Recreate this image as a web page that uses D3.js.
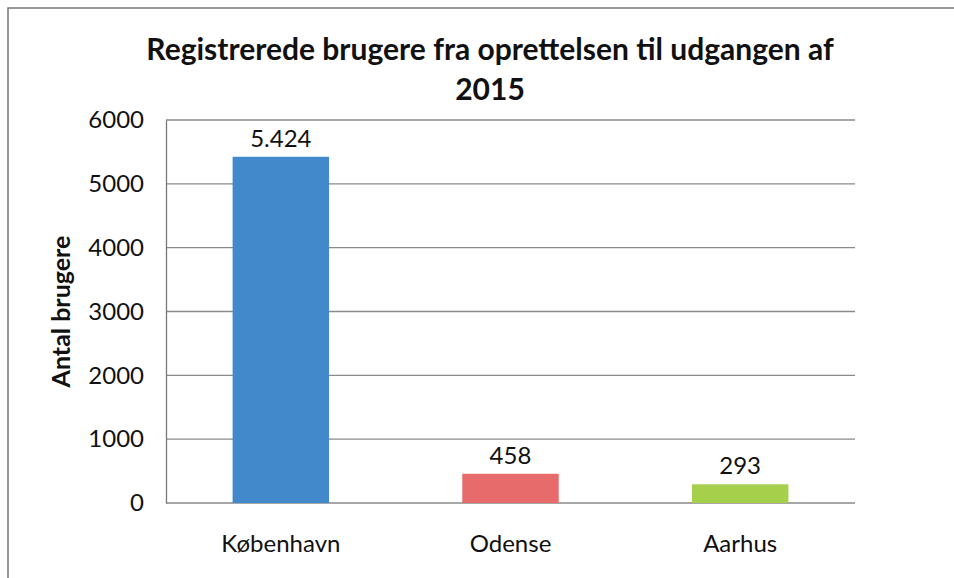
<!DOCTYPE html>
<html>
<head>
<meta charset="utf-8">
<script src="https://cdn.jsdelivr.net/npm/d3@7"></script>
<style>
  body { margin: 0; background: #fff; }
  svg { display: block; }
</style>
</head>
<body>
<svg id="chart"></svg>
<script>
// registrerede brugere per kommune, frem til udgangen af 2015
const cities = ["København", "Odense", "Aarhus"];
const users = [5424, 458, 293];
const userLabels = ["5.424", "458", "293"];
const barColors = ["#4189cb", "#e86b6b", "#a6cf4c"];
const yTicks = [0, 1000, 2000, 3000, 4000, 5000, 6000];

(function draw() {
  const width = 954,
    height = 578,
    margin = { top: 120, right: 99, bottom: 75, left: 166 };

  const font = "Lato, 'Noto Sans', sans-serif";

  const svg = d3.select("svg#chart")
    .attr("width", width)
    .attr("height", height)
    .style("font-family", font);

  // outer frame of the scanned figure
  svg.append("path")
    .attr("d", `M8,${height} V8 H${width}`)
    .attr("fill", "none")
    .attr("stroke", "#777")
    .attr("stroke-width", 1.5);

  const x = d3.scaleBand(cities, [margin.left, width - margin.right])
    .paddingInner(0.58)
    .paddingOuter(0.29);

  const y = d3.scaleLinear([0, 6000], [height - margin.bottom, margin.top]);

  // grid lines
  svg.append("g")
    .selectAll("line")
    .data(yTicks)
    .join("line")
    .attr("x1", margin.left)
    .attr("x2", width - margin.right)
    .attr("y1", d => y(d))
    .attr("y2", d => y(d))
    .attr("stroke", "#8a8a8a")
    .attr("stroke-width", 1.3);

  // y axis
  svg.append("g")
    .attr("transform", `translate(${margin.left}, 0)`)
    .call(d3.axisLeft(y).tickValues(yTicks).tickSize(0).tickPadding(22).tickFormat(d3.format("d")))
    .call(g => g.select(".domain").attr("stroke", "#777").attr("stroke-width", 1.3))
    .call(g => g.selectAll("text")
      .style("font-family", font)
      .style("font-size", "24px")
      .attr("fill", "#111"));

  // bars
  svg.append("g")
    .selectAll("rect")
    .data(cities)
    .join("rect")
    .attr("x", d => x(d))
    .attr("width", x.bandwidth())
    .attr("y", (d, i) => y(users[i]))
    .attr("height", (d, i) => y(0) - y(users[i]))
    .attr("fill", (d, i) => barColors[i]);

  // value labels
  svg.append("g")
    .selectAll("text")
    .data(cities)
    .join("text")
    .attr("x", d => x(d) + x.bandwidth() / 2)
    .attr("y", (d, i) => y(users[i]) - 10)
    .attr("text-anchor", "middle")
    .style("font-size", "24px")
    .attr("fill", "#111")
    .text((d, i) => userLabels[i]);

  // category labels
  svg.append("g")
    .selectAll("text")
    .data(cities)
    .join("text")
    .attr("x", d => x(d) + x.bandwidth() / 2)
    .attr("y", height - margin.bottom + 49)
    .attr("text-anchor", "middle")
    .style("font-size", "24px")
    .attr("fill", "#111")
    .text(d => d);

  // y axis title
  svg.append("text")
    .attr("transform", `translate(70, ${(y(0) + y(6000)) / 2}) rotate(-90)`)
    .attr("text-anchor", "middle")
    .style("font-size", "25px")
    .style("font-weight", "bold")
    .attr("fill", "#111")
    .text("Antal brugere");

  // chart title
  const title = svg.append("text")
    .attr("text-anchor", "middle")
    .style("font-size", "30px")
    .style("font-weight", "bold")
    .attr("fill", "#111");
  title.append("tspan").attr("x", 490).attr("y", 60)
    .text("Registrerede brugere fra oprettelsen til udgangen af");
  title.append("tspan").attr("x", 490).attr("y", 100).text("2015");
})();
</script>
</body>
</html>
